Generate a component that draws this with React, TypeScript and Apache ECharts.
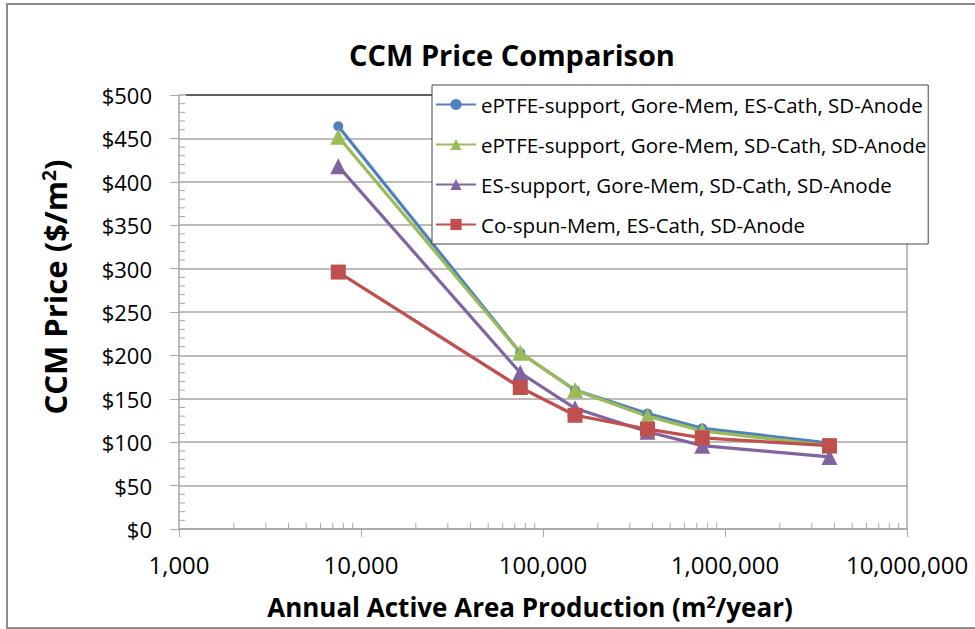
import React, { useEffect, useRef } from "react";
import * as echarts from "echarts";

const production = [7500, 75000, 150000, 375000, 750000, 3750000];
const eptfeEsCath = [464, 203, 160, 133, 116, 99];
const eptfeSdCath = [452, 203, 160, 130, 113, 96];
const esSupport = [418, 180, 139, 112, 96, 83];
const coSpun = [296, 163, 131, 115, 105, 96];
const xMinorTicks = [
  2000, 3000, 4000, 5000, 6000, 7000, 8000, 9000,
  20000, 30000, 40000, 50000, 60000, 70000, 80000, 90000,
  200000, 300000, 400000, 500000, 600000, 700000, 800000, 900000,
  2000000, 3000000, 4000000, 5000000, 6000000, 7000000, 8000000, 9000000,
];
const yMinorTicks = [
  10, 20, 30, 40, 60, 70, 80, 90, 110, 120, 130, 140, 160, 170, 180, 190,
  210, 220, 230, 240, 260, 270, 280, 290, 310, 320, 330, 340, 360, 370, 380, 390,
  410, 420, 430, 440, 460, 470, 480, 490,
];

const seriesNames = [
  "ePTFE-support, Gore-Mem, ES-Cath, SD-Anode",
  "ePTFE-support, Gore-Mem, SD-Cath, SD-Anode",
  "ES-support, Gore-Mem, SD-Cath, SD-Anode",
  "Co-spun-Mem, ES-Cath, SD-Anode",
];

const FONT = "'Open Sans', sans-serif";

export default function App() {
  const ref = useRef<HTMLDivElement>(null);

  useEffect(() => {
    if (!ref.current) return;
    const chart = echarts.init(ref.current, undefined, { renderer: "svg" });
    const pair = (ys: number[]) => production.map((x, i) => [x, ys[i]]);
    const lineSeries = (name: string, ys: number[], color: string, symbol: string, size: number) => ({
      name,
      type: "line",
      data: pair(ys),
      symbol,
      symbolSize: size,
      lineStyle: { color, width: 3.2 },
      itemStyle: { color, borderColor: color, borderWidth: 0 },
      emphasis: { disabled: true },
    });
    chart.setOption({
      animation: false,
      backgroundColor: "#ffffff",
      textStyle: { fontFamily: FONT },
      title: {
        text: "CCM Price Comparison",
        left: 507,
        top: 35,
        textAlign: "center",
        textStyle: { fontFamily: FONT, fontSize: 29, fontWeight: "bold", color: "#000" },
      },
      grid: { left: 179, right: 68, top: 95, bottom: 100, containLabel: false },
      legend: {
        data: seriesNames,
        orient: "vertical",
        left: 432,
        top: 85,
        padding: [9, 2, 9, 3],
        itemGap: 19,
        itemWidth: 40,
        itemHeight: 14,
        borderColor: "#444",
        borderWidth: 1,
        backgroundColor: "#ffffff",
        textStyle: { fontFamily: FONT, fontSize: 20.5, lineHeight: 21, color: "#000" },
      },
      xAxis: {
        type: "log",
        logBase: 10,
        min: 1000,
        max: 10000000,
        axisLine: { show: true, lineStyle: { color: "#a6a6a6", width: 1.5 } },
        axisTick: { show: true, length: 8, lineStyle: { color: "#a6a6a6" } },
        splitLine: { show: false },
        minorTick: { show: false },
        axisLabel: {
          fontFamily: FONT,
          fontSize: 24,
          color: "#000",
          margin: 23,
          formatter: (v: number) => Math.round(v).toLocaleString("en-US"),
        },
      },
      yAxis: {
        type: "value",
        min: 0,
        max: 500,
        interval: 50,
        axisLine: { show: true, lineStyle: { color: "#a6a6a6", width: 1.5 } },
        axisTick: { show: true, length: 9, lineStyle: { color: "#a6a6a6" } },
        splitLine: { show: true, lineStyle: { color: "#a6a6a6", width: 1.5 } },
        axisLabel: {
          fontFamily: FONT,
          fontSize: 22,
          color: "#000",
          margin: 27,
          formatter: (v: number) => "$" + v,
        },
      },
      series: [
        {
          type: "custom",
          name: "xminor",
          silent: true,
          clip: false,
          data: xMinorTicks.map((v) => [v, 0]),
          renderItem: (_p: any, api: any) => {
            const pt = api.coord([api.value(0), api.value(1)]);
            return {
              type: "line",
              shape: { x1: pt[0], y1: pt[1], x2: pt[0], y2: pt[1] - 6 },
              style: { stroke: "#a6a6a6", lineWidth: 1 },
            };
          },
        },
        {
          type: "custom",
          name: "yminor",
          silent: true,
          clip: false,
          data: yMinorTicks.map((v) => [1000, v]),
          renderItem: (_p: any, api: any) => {
            const pt = api.coord([api.value(0), api.value(1)]);
            return {
              type: "line",
              shape: { x1: pt[0], y1: pt[1], x2: pt[0] + 6, y2: pt[1] },
              style: { stroke: "#a6a6a6", lineWidth: 1 },
            };
          },
        },
        lineSeries(seriesNames[0], eptfeEsCath, "#4F81BD", "circle", 10),
        lineSeries(seriesNames[1], eptfeSdCath, "#9BBB59", "triangle", 16),
        lineSeries(seriesNames[2], esSupport, "#8064A2", "triangle", 16),
        lineSeries(seriesNames[3], coSpun, "#C0504D", "rect", 15),
      ],
      graphic: [
        {
          type: "rect",
          shape: { x: 7, y: 4, width: 980, height: 624 },
          style: { fill: "none", stroke: "#8c8c8c", lineWidth: 2 },
          silent: true,
        },
        {
          type: "line",
          shape: { x1: 907, y1: 95, x2: 907, y2: 529 },
          style: { stroke: "#a6a6a6", lineWidth: 1.5 },
          silent: true,
        },
        {
          type: "line",
          shape: { x1: 186, y1: 95, x2: 907, y2: 95 },
          style: { stroke: "#404040", lineWidth: 1.5 },
          silent: true,
          z: 1,
        },
        {
          type: "text",
          x: 55,
          y: 287,
          rotation: Math.PI / 2,
          style: {
            text: "{b|CCM Price ($/m}{s|2}{b|)}",
            align: "center",
            verticalAlign: "middle",
            rich: {
              b: { fontFamily: FONT, fontSize: 31, fontWeight: "bold", fill: "#000" },
              s: { fontFamily: FONT, fontSize: 19, fontWeight: "bold", fill: "#000", verticalAlign: "top", padding: [0, 0, 13, 0] },
            },
          },
        },
        {
          type: "text",
          x: 530,
          y: 607,
          style: {
            text: "{b|Annual Active Area Production (m}{s|2}{b|/year)}",
            align: "center",
            verticalAlign: "middle",
            rich: {
              b: { fontFamily: FONT, fontSize: 26, fontWeight: "bold", fill: "#000" },
              s: { fontFamily: FONT, fontSize: 16, fontWeight: "bold", fill: "#000", verticalAlign: "top", padding: [0, 0, 11, 0] },
            },
          },
        },
      ],
    });
    return () => chart.dispose();
  }, []);

  return (
    <div
      ref={ref}
      style={{ position: "fixed", left: 0, top: 0, width: 975, height: 629 }}
    />
  );
}
